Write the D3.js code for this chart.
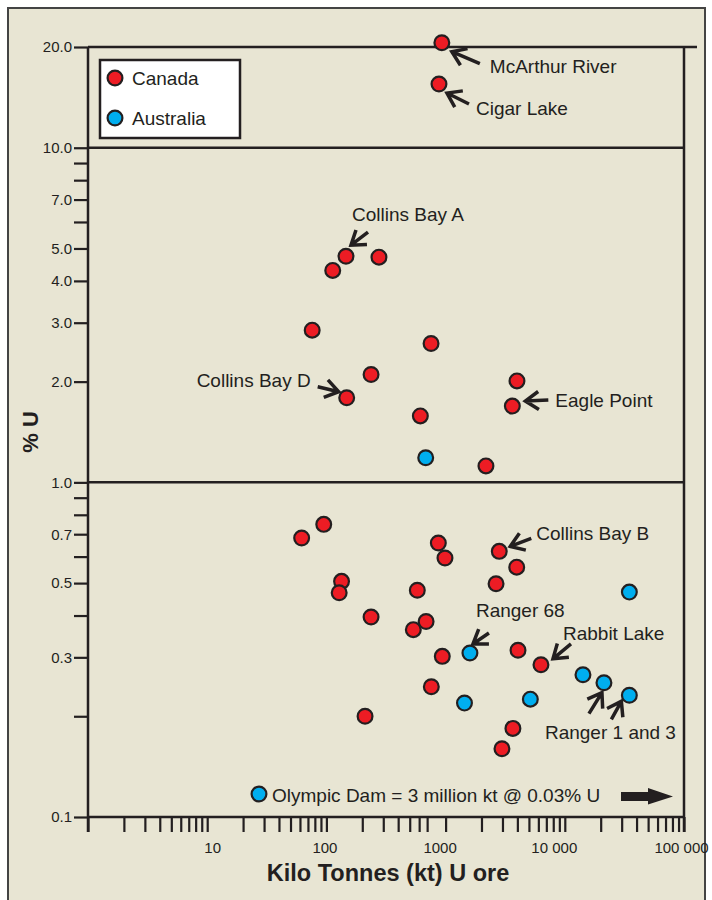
<!DOCTYPE html>
<html>
<head>
<meta charset="utf-8">
<script src="https://cdn.jsdelivr.net/npm/d3@7"></script>
<style>
  html, body { margin: 0; padding: 0; background: #ffffff; }
  svg { display: block; }
  text { font-family: "Liberation Sans", Arial, Helvetica, sans-serif; fill: #231f20; }
</style>
</head>
<body>
<script>
// Uranium deposits: ore tonnage (kt) against grade (% U)
const canadaOre   = [930, 880, 146, 113, 276, 76, 755, 237, 148, 614, 3970, 3630, 2180,
                     62, 95, 134, 128, 869, 988, 2820, 3950, 2650, 579, 237, 686, 536,
                     938, 4050, 6310, 759, 211, 3670, 2970];
const canadaGrade = [20.6, 15.5, 4.74, 4.30, 4.71, 2.85, 2.60, 2.10, 1.79, 1.58, 2.01, 1.69, 1.12,
                     0.682, 0.749, 0.506, 0.468, 0.659, 0.594, 0.622, 0.558, 0.498, 0.476, 0.396, 0.384, 0.363,
                     0.302, 0.315, 0.285, 0.245, 0.200, 0.184, 0.160];
const australiaOre   = [681, 34800, 1600, 14200, 21300, 34800, 1440, 5140];
const australiaGrade = [1.185, 0.470, 0.309, 0.266, 0.252, 0.231, 0.219, 0.225];

const seriesNames = ["Canada", "Australia"];

// axis ticks
const yLabelTicks = [20, 10, 7, 5, 4, 3, 2, 1, 0.7, 0.5, 0.3, 0.1];
const yMinorTicks = [9, 8, 6, 0.9, 0.8, 0.6, 0.4, 0.2];
const xLabelTicks = [10, 100, 1000, 10000, 100000];
const xTickLabels = ["10", "100", "1000", "10 000", "100 000"];
const xMinorTicks = [1, 2, 3, 4, 5, 6, 7, 8, 9,
                     20, 30, 40, 50, 60, 70, 80, 90,
                     200, 300, 400, 500, 600, 700,
                     2000, 3000, 4000, 5000, 6000, 7000, 8000, 9000,
                     20000, 30000, 40000, 50000, 60000, 70000, 80000, 90000];
const yBands = [20, 10, 1, 0.1];

// horizontal nudge of the x tick labels (px)
const xLabelShift = [5, -2, -6, -11, -3];

// named deposits: label and arrow offsets (px) from the marker
const labels = [
  { s: 0, i: 0,  text: "McArthur River", dx: 48,  dy: 30,  anchor: "start" },
  { s: 0, i: 1,  text: "Cigar Lake",     dx: 37,  dy: 31,  anchor: "start" },
  { s: 0, i: 2,  text: "Collins Bay A",  dx: 6,   dy: -35, anchor: "start" },
  { s: 0, i: 8,  text: "Collins Bay D",  dx: -36, dy: -11, anchor: "end" },
  { s: 0, i: 11, text: "Eagle Point",    dx: 43,  dy: 1,   anchor: "start" },
  { s: 0, i: 19, text: "Collins Bay B",  dx: 37,  dy: -11, anchor: "start" },
  { s: 1, i: 2,  text: "Ranger 68",      dx: 6,   dy: -36, anchor: "start" },
  { s: 0, i: 28, text: "Rabbit Lake",    dx: 22,  dy: -25, anchor: "start" },
  { s: 1, i: 4,  text: "Ranger 1 and 3", dx: -59, dy: 56,  anchor: "start" }
];
const arrows = [
  { s: 0, i: 0,  tip: [10, 9],   tail: [38, 21] },
  { s: 0, i: 1,  tip: [8, 9],    tail: [30, 20] },
  { s: 0, i: 2,  tip: [5, -11],  tail: [22, -24] },
  { s: 0, i: 8,  tip: [-8, -6],  tail: [-29, -11] },
  { s: 0, i: 11, tip: [13, -5],  tail: [36, -6] },
  { s: 0, i: 19, tip: [11, -5],  tail: [32, -13] },
  { s: 1, i: 2,  tip: [3, -9],   tail: [19, -20] },
  { s: 0, i: 28, tip: [12, -6],  tail: [30, -21] },
  { s: 1, i: 4,  tip: [-2, 10],  tail: [-15, 31] },
  { s: 1, i: 5,  tip: [-8, 6],   tail: [-18, 24] }
];

const W = 712, H = 900;
const ink = "#231f20";
const colors = ["#ed1c24", "#00aeef"];

const x = d3.scaleLog().domain([1, 100000]).range([88, 684]);
const y = d3.scaleLog().domain([0.1, 20]).range([817, 47]);

const series = [
  d3.zip(canadaOre, canadaGrade),
  d3.zip(australiaOre, australiaGrade)
];

const svg = d3.select("body").append("svg").attr("width", W).attr("height", H);

// panel background and frame
svg.append("rect").attr("x", 8).attr("y", 8).attr("width", 697).attr("height", 900)
  .attr("fill", "#e8e5d3").attr("stroke", "#444").attr("stroke-width", 2);

// horizontal band lines
svg.append("g").selectAll("line").data(yBands).join("line")
  .attr("x1", x(1)).attr("x2", d => d === 20 ? 697 : x(100000))
  .attr("y1", d => y(d)).attr("y2", d => y(d))
  .attr("stroke", ink).attr("stroke-width", 2.5);

// vertical axis lines
svg.append("line").attr("x1", x(1)).attr("x2", x(1)).attr("y1", y(20)).attr("y2", 832)
  .attr("stroke", ink).attr("stroke-width", 2.5);
svg.append("line").attr("x1", x(100000)).attr("x2", x(100000)).attr("y1", y(20)).attr("y2", 832)
  .attr("stroke", ink).attr("stroke-width", 2.5);

// y axis
const yAxis = svg.append("g").attr("transform", `translate(${x(1)},0)`)
  .call(d3.axisLeft(y).tickValues(yLabelTicks).tickFormat(d3.format(".1f")).tickSize(14).tickPadding(2));
yAxis.append("g").call(d3.axisLeft(y).tickValues(yMinorTicks).tickFormat("").tickSize(14));
yAxis.selectAll(".domain").remove();
yAxis.selectAll("line").attr("stroke", ink).attr("stroke-width", 2.2);
yAxis.selectAll("text").attr("font-size", 15).attr("fill", ink)
  .style("font-family", "'Liberation Sans', Arial, sans-serif");

// x axis
const xAxis = svg.append("g").attr("transform", `translate(0,${y(0.1)})`)
  .call(d3.axisBottom(x).tickValues(xLabelTicks)
    .tickFormat((d, i) => xTickLabels[i]).tickSize(15).tickPadding(10));
xAxis.append("g").call(d3.axisBottom(x).tickValues(xMinorTicks).tickFormat("").tickSize(15));
xAxis.selectAll(".domain").remove();
xAxis.selectAll("line").attr("stroke", ink).attr("stroke-width", 2.2);
xAxis.selectAll(".tick text").filter(function () { return this.textContent !== ""; })
  .attr("dx", (d, i) => xLabelShift[i]);
xAxis.selectAll("text").attr("font-size", 15).attr("fill", ink)
  .style("font-family", "'Liberation Sans', Arial, sans-serif");

// axis titles
svg.append("text").attr("x", 388).attr("y", 881).attr("text-anchor", "middle")
  .attr("font-size", 23.5).attr("font-weight", "bold").text("Kilo Tonnes (kt) U ore");
svg.append("text").attr("transform", "translate(38,432) rotate(-90)").attr("text-anchor", "middle")
  .attr("font-size", 22).attr("font-weight", "bold").text("% U");

// annotation arrows (open chevron heads)
const pos = (s, i) => [x(series[s][i][0]), y(series[s][i][1])];
function arrowPath(a) {
  const [px, py] = pos(a.s, a.i);
  const tx = px + a.tip[0], ty = py + a.tip[1];
  const bx = px + a.tail[0], by = py + a.tail[1];
  const ang = Math.atan2(by - ty, bx - tx);
  const L = 16, spread = 0.6;
  const b1 = [tx + L * Math.cos(ang - spread), ty + L * Math.sin(ang - spread)];
  const b2 = [tx + L * Math.cos(ang + spread), ty + L * Math.sin(ang + spread)];
  return `M${bx},${by}L${tx},${ty}M${b1[0]},${b1[1]}L${tx},${ty}L${b2[0]},${b2[1]}`;
}
svg.append("g").selectAll("path").data(arrows).join("path")
  .attr("d", arrowPath).attr("fill", "none").attr("stroke", ink)
  .attr("stroke-width", 3.5).attr("stroke-linejoin", "miter");

svg.append("g").selectAll("text").data(labels).join("text")
  .attr("x", d => pos(d.s, d.i)[0] + d.dx).attr("y", d => pos(d.s, d.i)[1] + d.dy)
  .attr("text-anchor", d => d.anchor).attr("font-size", 19).text(d => d.text);

// deposit markers
series.forEach((pts, s) => {
  svg.append("g").selectAll("circle").data(pts).join("circle")
    .attr("cx", d => x(d[0])).attr("cy", d => y(d[1])).attr("r", 7.4)
    .attr("fill", colors[s]).attr("stroke", ink).attr("stroke-width", 2.2);
});

// legend
const lg = svg.append("g").attr("transform", "translate(100,60)");
lg.append("rect").attr("width", 140).attr("height", 78).attr("fill", "#ffffff")
  .attr("stroke", ink).attr("stroke-width", 2.5);
seriesNames.forEach((name, k) => {
  lg.append("circle").attr("cx", 15).attr("cy", 18 + k * 40).attr("r", 7.4)
    .attr("fill", colors[k]).attr("stroke", ink).attr("stroke-width", 2.2);
  lg.append("text").attr("x", 32).attr("y", 25 + k * 40).attr("font-size", 19).text(name);
});

// Olympic Dam note (off-scale deposit)
const note = svg.append("g").attr("transform", "translate(259,794)");
note.append("circle").attr("r", 7.4).attr("fill", colors[1]).attr("stroke", ink).attr("stroke-width", 2.2);
note.append("text").attr("x", 13).attr("y", 8).attr("font-size", 19)
  .text("Olympic Dam = 3 million kt @ 0.03% U");
note.append("path")
  .attr("d", "M362,-2H389V-6L414,2.5L389,10.5V7H362Z")
  .attr("fill", ink);
</script>
</body>
</html>
